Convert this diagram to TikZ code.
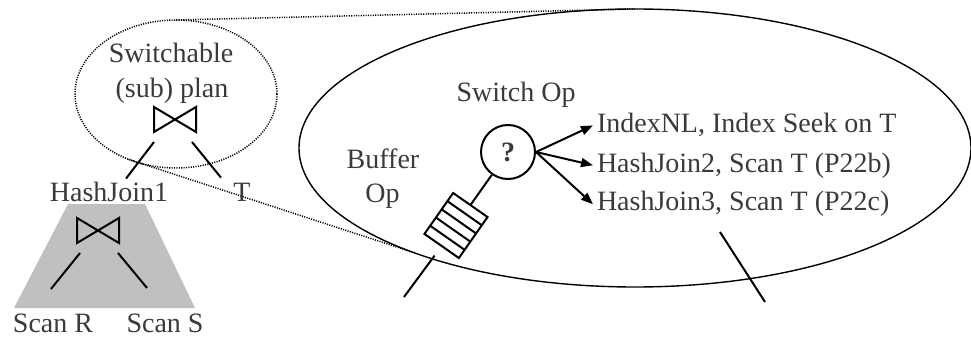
\documentclass[tikz,border=0pt]{standalone}
\usepackage{fontspec}
\setmainfont{Liberation Serif}
\usetikzlibrary{shapes.geometric,arrows.meta,calc}

\definecolor{txt}{RGB}{58,58,62}
\definecolor{plangray}{RGB}{192,192,192}

\tikzset{
  label/.style={inner sep=0pt, outer sep=0pt, text=txt,
    font=\fontsize{28}{32}\selectfont},
  joinop/.style={inner sep=0pt, outer sep=0pt, minimum width=42pt, minimum height=25pt},
  bowtie/.style={line width=2pt, line join=miter},
  edge/.style={line width=2pt},
  zoomline/.style={line width=1.5pt, dash pattern=on 1.1pt off 1.3pt},
  arr/.style={line width=2pt, -{Triangle[length=12pt,width=9pt]}},
  switchop/.style={circle, draw, line width=2pt, minimum size=54pt, inner sep=0pt},
  bufferop/.style={draw, line width=2pt, minimum width=42pt, minimum height=50pt,
    inner sep=0pt, outer sep=0pt, rotate=-35},
}

\begin{document}
\begin{tikzpicture}[x=1pt,y=1pt]
\useasboundingbox (0,0) rectangle (971,-339);

% shaded sub-plan below HashJoin1
\fill[plangray] (68,-204) -- (145,-204) -- (195,-308) -- (14,-308) -- cycle;

% outlines: the switchable sub-plan and its enlarged view
\node[ellipse, draw, zoomline, minimum width=202pt, minimum height=148pt,
      inner sep=0pt, outer sep=0pt] (plan) at (176,-94) {};
\node[ellipse, draw, line width=1.4pt, minimum width=672pt, minimum height=278pt,
      inner sep=0pt, outer sep=0pt] (view) at (635,-148) {};
\draw[zoomline] (plan.north) -- (view.north);
\draw[zoomline] (plan.234) -- (view.205);

% left plan tree
\node[label, anchor=base] (sw1) at (171,-63) {Switchable};
\node[label, anchor=base] (sw2) at (172,-98) {(sub) plan};
\node[joinop] (j1) at (175,-119.5) {};
\draw[bowtie] (j1.south west) -- (j1.north west) -- (j1.south east) -- (j1.north east) -- cycle;
\node[label, anchor=base] (hj1) at (109,-201) {HashJoin1};
\node[label, anchor=base] (tT) at (242,-201) {T};
\draw[edge] ([yshift=-10pt]j1.south west) -- ([xshift=17pt,yshift=3pt]hj1.north);
\draw[edge] ([xshift=-4pt,yshift=-10pt]j1.south east) -- ([xshift=-21pt,yshift=5pt]tT.north);

\node[joinop] (j2) at (98,-230.5) {};
\draw[bowtie] (j2.south west) -- (j2.north west) -- (j2.south east) -- (j2.north east) -- cycle;
\node[label, anchor=base] (sR) at (53,-332.5) {Scan R};
\node[label, anchor=base] (sS) at (165,-332.5) {Scan S};
\draw[edge] ([xshift=3pt,yshift=-10pt]j2.south west) -- ([xshift=-2pt,yshift=25pt]sR.north);
\draw[edge] ([xshift=-1pt,yshift=-10pt]j2.south east) -- ([xshift=-18pt,yshift=26pt]sS.north);

% enlarged view: switch and buffer operators
\node[label, anchor=base] (swlab) at (516,-102) {Switch Op};
\node[label, anchor=base] (buf1) at (383,-168) {Buffer};
\node[label, anchor=base] (buf2) at (382.5,-202) {Op};

\node[switchop, text=txt, font=\bfseries\fontsize{28}{32}\selectfont] (sw) at (508,-152) {?};

\node[bufferop] (buf) at (456,-225.5) {};
\foreach \k in {0.2,0.4,0.6,0.8}
  \draw[line width=2pt] ($(buf.north west)!\k!(buf.south west)$) -- ($(buf.north east)!\k!(buf.south east)$);
\draw[edge] (sw) -- (buf);
\coordinate (bufin) at (404,-297);
\draw[edge] ($(buf.south)!12pt!(bufin)$) -- (bufin);

% alternative plans chosen by the switch
\node[label, anchor=base west] (o1) at (597,-133) {IndexNL, Index Seek on T};
\node[label, anchor=base west] (o2) at (597,-172) {HashJoin2, Scan T (P22b)};
\node[label, anchor=base west] (o3) at (597,-211) {HashJoin3, Scan T (P22c)};
\draw[arr] (sw.east) -- ([xshift=-4pt]o1.west);
\draw[arr] (sw.east) -- ([xshift=-4pt]o2.west);
\draw[arr] (sw.east) -- ([xshift=-4pt]o3.west);

\coordinate (tin) at (720,-232);
\coordinate (tout) at (765,-302);
\draw[edge] (tin) -- (tout);
\end{tikzpicture}
\end{document}
